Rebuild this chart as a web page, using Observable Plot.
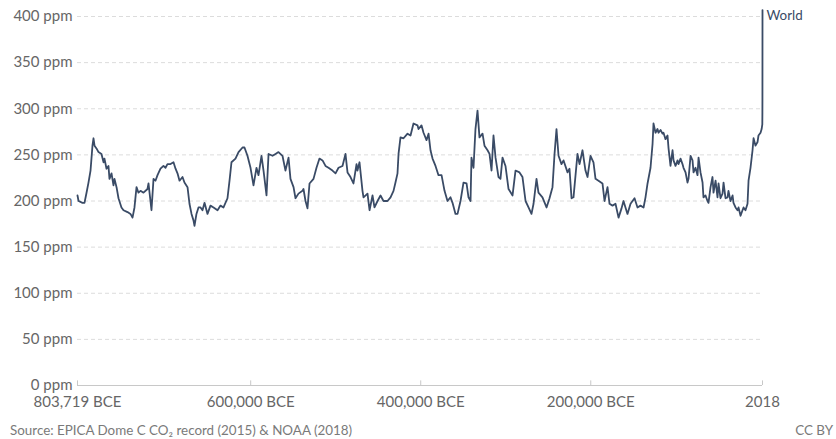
<!DOCTYPE html>
<html>
<head>
<meta charset="utf-8">
<script src="https://cdn.jsdelivr.net/npm/d3@7"></script>
<script src="https://cdn.jsdelivr.net/npm/@observablehq/plot@0.6"></script>
<style>
  html, body { margin: 0; padding: 0; background: #fff; }
  body { width: 836px; height: 439px; overflow: hidden; font-family: Lato, "Open Sans", sans-serif; }
  #footer { display: flex; justify-content: space-between; font-size: 13.4px; color: #7a7a7a; line-height: 17px; padding: 0 3px 0 10px; }
</style>
</head>
<body>
<div id="chart"></div>
<div id="footer"><span>Source: EPICA Dome C CO₂ record (2015) &amp; NOAA (2018)</span><span>CC BY</span></div>
<script>
const seriesName = "World";
const years = [
  -803719,-802500,-797800,-795500,-793100,-790800,-788400,-786100,-784900,-783700,
  -781400,-779000,-775500,-773100,-772000,-769600,-767300,-766100,-763700,-761400,
  -760200,-757800,-755500,-752000,-749600,-744900,-741400,-739000,-736700,-734300,
  -732000,-729600,-726100,-721400,-720200,-717900,-716700,-714300,-712000,-709600,
  -706100,-702600,-700200,-697900,-694300,-690800,-688400,-686100,-683700,-680200,
  -677900,-674300,-672000,-669600,-667300,-666100,-663800,-661400,
  -659000,-656700,-654300,-650800,-647300,
  -643700,-639000,-635500,-632000,-627300,-624900,-622600,-617900,-614300,-609600,
  -607300,-603800,-600200,-596700,-593200,-590800,-587300,-584900,-581400,-579000,
  -574300,-570800,-567300,-562600,-559100,-555500,-553200,-549600,-547300,-543800,
  -539100,-537900,-535500,-533200,-530800,-526100,-522600,-519100,-515500,-512000,
  -508500,-503800,-500200,-496700,-492000,-488500,-486100,-482600,-479100,-475500,
  -474400,-472000,-468500,-467300,-462600,-460200,-456700,-454400,-450800,-447300,
  -443800,-439100,-435500,-432000,-429700,-427300,-426100,-423800,-420200,-415500,
  -412000,-408500,-403800,-402600,-399100,-396700,-393200,-390800,-388500,-386100,
  -382600,-379100,-375500,-372000,-368500,-365000,-362600,-359100,-356700,-353200,
  -349700,-346100,-343800,-341400,-340300,-337900,-335600,-333200,-330900,-327300,
  -325000,-321400,-319100,-316700,-314400,-312000,-308500,-306200,-303800,-300300,
  -296700,-292000,-288500,-283800,-280300,-276700,-273200,-269700,-267300,-263800,
  -261500,-256800,-252000,-248500,-245000,-242600,-240300,-237900,-234400,-232000,
  -227300,-225000,-222600,-220300,-215600,-213200,-209700,-206200,-203800,-200300,
  -196800,-194400,-190900,-186200,-183800,-180300,-177900,-174400,-170900,-167300,
  -163800,-161500,-156800,-153200,-148500,-145000,
  -141500,-137900,-135600,-133200,-129700,-127300,-126200,-123800,-121500,-120300,
  -117900,-115600,-114400,-112100,-109700,-108500,-106200,-103800,-102600,-100300,
  -97900,-96800,-94400,-92100,-90900,-88500,-86200,-85000,-82600,-80300,
  -79100,-76800,-74400,-73200,-70900,-68500,-67400,-65000,-62700,-61500,
  -59100,-56800,-55600,-53200,-50900,-49700,-47400,-45000,-43800,-41500,
  -39100,-38000,-35600,-33200,-32100,-29700,-27400,-26200,-23800,-21500,
  -20300,-18000,-15600,-14400,-12100,-9700,-8500,-6200,-3800,-2700,
  -300,1000,1800,1900,1950,2018
];
const co2 = [
  206,200,198,198,209,220,233,260,268,260,
  257,253,251,242,246,235,238,224,230,217,
  224,215,203,193,190,188,186,182,193,215,
  209,211,209,213,219,200,190,224,222,228,
  235,238,236,240,240,242,235,230,222,226,
  220,215,197,186,179,173,186,193,
  193,190,198,186,195,
  193,190,195,193,203,222,242,246,253,258,
  258,249,236,217,236,228,249,233,206,251,
  249,251,253,249,233,247,224,215,203,208,
  211,213,200,192,219,224,236,246,244,238,
  236,233,230,236,238,251,231,226,219,240,
  233,242,211,204,208,190,206,193,200,206,
  200,200,204,211,220,230,251,269,268,273,
  271,284,282,278,282,274,266,273,255,246,
  238,228,228,211,200,204,198,186,186,200,
  220,219,204,200,247,236,278,298,269,273,
  260,255,251,233,271,247,226,224,247,238,
  213,206,233,231,226,200,193,186,197,224,
  209,204,193,203,215,251,278,249,240,244,
  231,235,203,204,251,240,255,233,226,249,
  242,224,222,219,200,215,197,195,197,182,
  192,200,186,197,203,193,
  195,193,204,219,236,262,284,274,278,274,
  277,273,274,267,271,257,238,255,244,238,
  244,240,246,240,236,231,220,224,249,244,
  231,236,228,247,231,220,204,206,200,198,
  215,226,209,222,204,219,203,208,220,203,
  204,211,200,206,198,193,190,193,184,190,
  193,190,197,222,236,255,268,260,264,271,
  274,278,283,296,311,407
];
const xTicks = [-803719, -600000, -400000, -200000, 2018];
const yTicks = [0, 50, 100, 150, 200, 250, 300, 350, 400];
const gridValues = [50, 100, 150, 200, 250, 300, 350, 400];

const data = years.map((y, i) => ({year: y, value: co2[i]}));
const last = data[data.length - 1];
const fmtYear = d => d < 0 ? d3.format(",")(-d) + " BCE" : String(d);
const lineColor = "#3a4b66";

const chart = Plot.plot({
  width: 836,
  height: 422,
  marginLeft: 77,
  marginRight: 74,
  marginTop: 16,
  marginBottom: 37,
  style: {fontFamily: "Lato, 'Open Sans', sans-serif", fontSize: "15px", color: "#666", background: "#fff"},
  x: {domain: [-803719, 2018]},
  y: {domain: [0, 400]},
  marks: [
    Plot.ruleY(gridValues, {stroke: "#dcdcdc", strokeDasharray: "4,3", strokeWidth: 1}),
    Plot.ruleY([0], {stroke: "#c8c8c8"}),
    Plot.ruleX(xTicks, {y1: 0, y2: 5, stroke: "#c8c8c8"}),
    Plot.axisY(yTicks, {tickSize: 0, tickPadding: 5, tickFormat: d => d + " ppm", label: null, fill: "#666", fontSize: 15}),
    Plot.axisX(xTicks, {tickSize: 0, tickPadding: 11, tickFormat: fmtYear, label: null, fill: "#666", fontSize: 15}),
    Plot.line(data, {x: "year", y: "value", stroke: lineColor, strokeWidth: 1.8}),
    Plot.text([last], {x: "year", y: "value", text: () => seriesName, dx: 4, dy: 6, textAnchor: "start", fill: lineColor, fontSize: 13.4})
  ]
});
document.getElementById("chart").appendChild(chart);
</script>
</body>
</html>
